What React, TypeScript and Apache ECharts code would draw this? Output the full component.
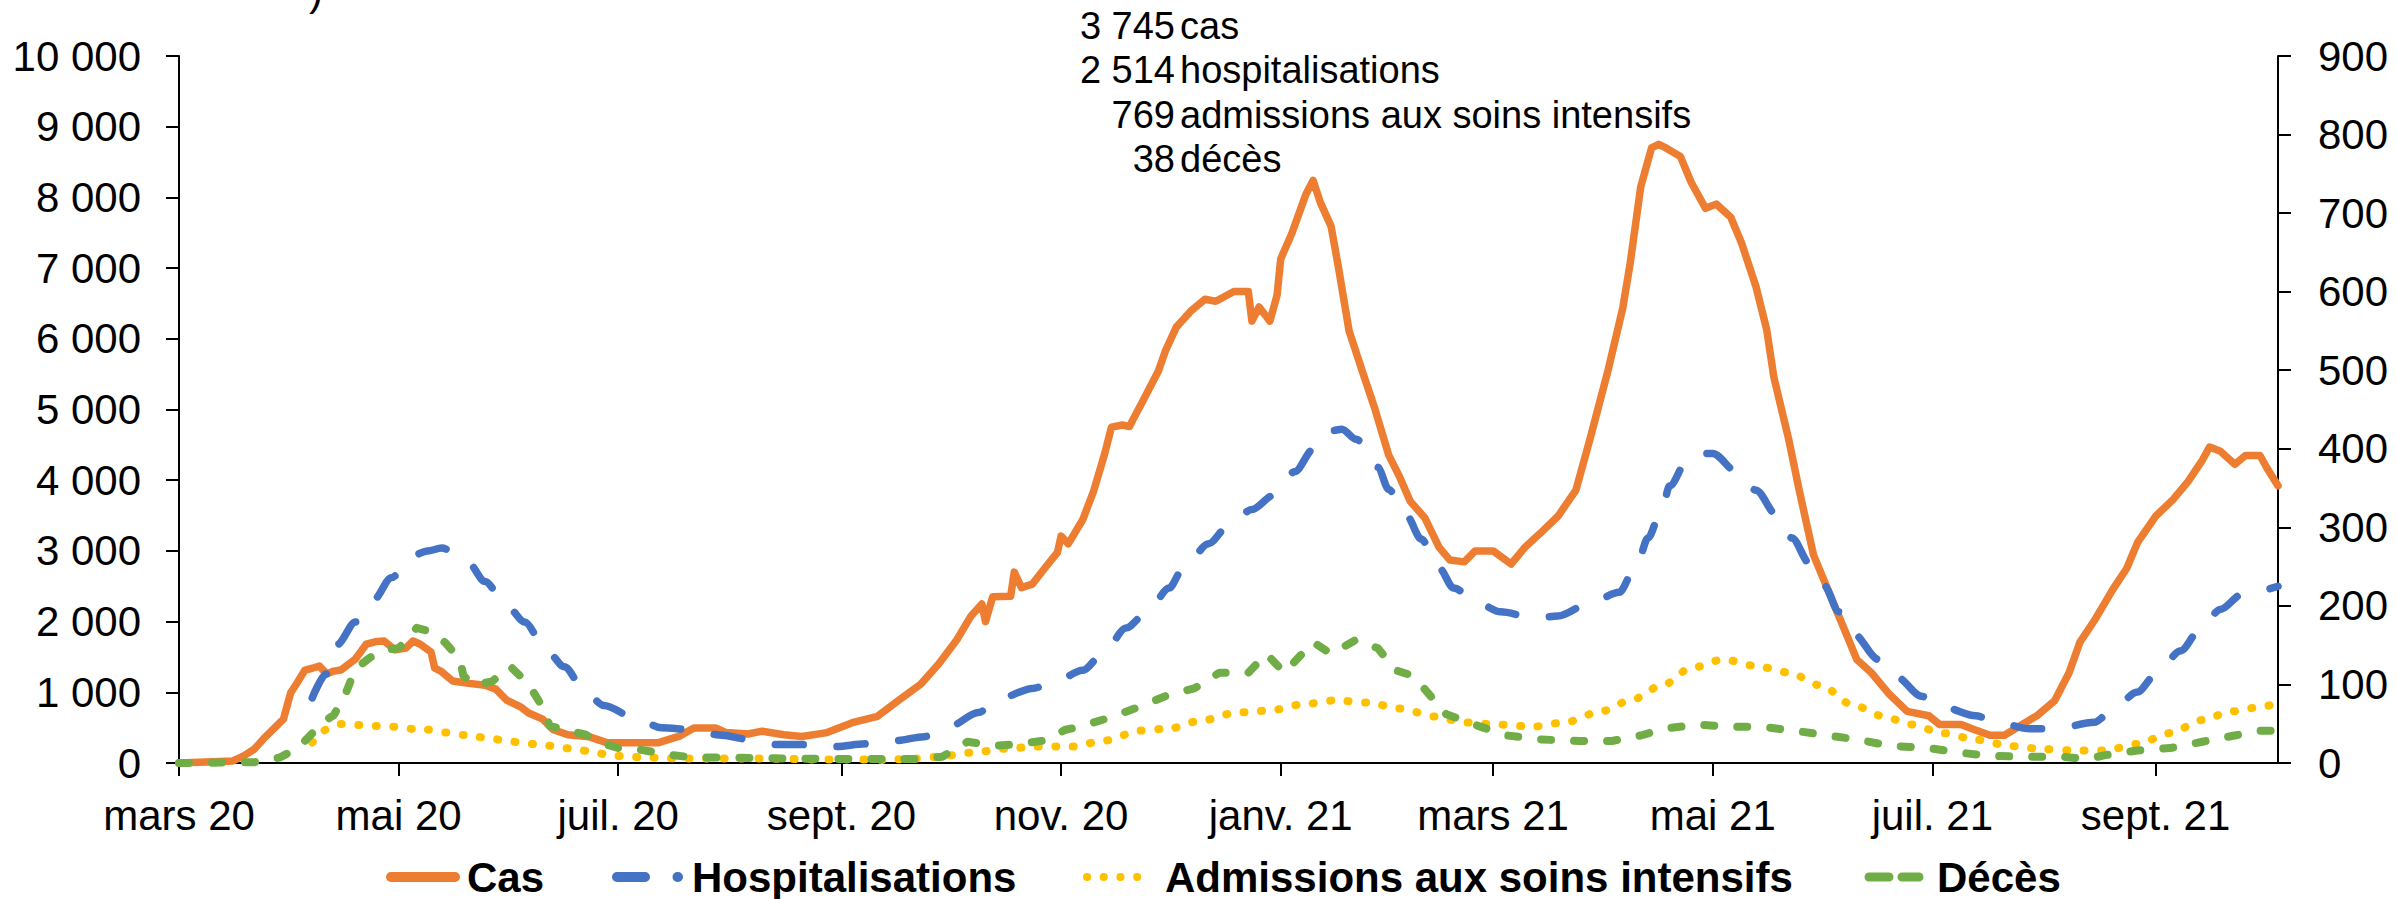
import React, { useEffect, useRef } from "react";
import * as echarts from "echarts";

// ---------- Data ----------
const START_DATE = "2020-03-01";
const END_DATE = "2021-10-05";

const MOIS = ["janv.", "févr.", "mars", "avr.", "mai", "juin", "juil.", "août", "sept.", "oct.", "nov.", "déc."];

const seriesNames = ["Cas", "Hospitalisations", "Admissions aux soins intensifs", "Décès"];

// Cas (axe de gauche)
const casData: [string, number][] = [
  ["2020-03-01", 0], ["2020-03-16", 30], ["2020-03-19", 100], ["2020-03-22", 200], ["2020-03-25", 370],
  ["2020-03-28", 520], ["2020-03-30", 620], ["2020-04-01", 990], ["2020-04-03", 1150], ["2020-04-05", 1315],
  ["2020-04-07", 1340], ["2020-04-09", 1370], ["2020-04-11", 1260], ["2020-04-13", 1300], ["2020-04-15", 1315],
  ["2020-04-19", 1470], ["2020-04-22", 1680], ["2020-04-25", 1720], ["2020-04-27", 1725], ["2020-04-30", 1600],
  ["2020-05-03", 1625], ["2020-05-05", 1725], ["2020-05-07", 1680], ["2020-05-10", 1570], ["2020-05-11", 1345],
  ["2020-05-13", 1290], ["2020-05-16", 1160], ["2020-05-20", 1130], ["2020-05-25", 1100], ["2020-05-28", 1045],
  ["2020-05-31", 890], ["2020-06-04", 790], ["2020-06-06", 710], ["2020-06-10", 620], ["2020-06-13", 470],
  ["2020-06-17", 400], ["2020-06-23", 370], ["2020-06-28", 285], ["2020-07-06", 285], ["2020-07-12", 285],
  ["2020-07-18", 380], ["2020-07-22", 495], ["2020-07-28", 495], ["2020-07-31", 430], ["2020-08-02", 425],
  ["2020-08-06", 410], ["2020-08-10", 450], ["2020-08-16", 400], ["2020-08-21", 375], ["2020-08-28", 430],
  ["2020-09-04", 570], ["2020-09-11", 660], ["2020-09-17", 890], ["2020-09-23", 1115], ["2020-09-28", 1400],
  ["2020-10-03", 1740], ["2020-10-07", 2080], ["2020-10-10", 2250], ["2020-10-11", 2000], ["2020-10-13", 2350],
  ["2020-10-18", 2360], ["2020-10-19", 2700], ["2020-10-21", 2480], ["2020-10-24", 2530], ["2020-10-28", 2790],
  ["2020-10-31", 2980], ["2020-11-01", 3210], ["2020-11-03", 3100], ["2020-11-07", 3440], ["2020-11-10", 3840],
  ["2020-11-13", 4355], ["2020-11-15", 4750], ["2020-11-18", 4780], ["2020-11-20", 4760], ["2020-11-21", 4860],
  ["2020-11-24", 5150], ["2020-11-28", 5540], ["2020-11-30", 5830], ["2020-12-03", 6165], ["2020-12-07", 6390],
  ["2020-12-11", 6560], ["2020-12-14", 6530], ["2020-12-19", 6670], ["2020-12-23", 6670], ["2020-12-24", 6250],
  ["2020-12-26", 6450], ["2020-12-29", 6250], ["2020-12-31", 6620], ["2021-01-01", 7130], ["2021-01-04", 7480],
  ["2021-01-06", 7760], ["2021-01-08", 8045], ["2021-01-10", 8240], ["2021-01-12", 7930], ["2021-01-15", 7590],
  ["2021-01-17", 7020], ["2021-01-20", 6110], ["2021-01-24", 5490], ["2021-01-27", 5035], ["2021-01-31", 4355],
  ["2021-02-03", 4050], ["2021-02-06", 3700], ["2021-02-10", 3470], ["2021-02-14", 3050], ["2021-02-17", 2870],
  ["2021-02-21", 2845], ["2021-02-24", 3000], ["2021-03-01", 3000], ["2021-03-06", 2815], ["2021-03-10", 3060],
  ["2021-03-14", 3245], ["2021-03-19", 3490], ["2021-03-24", 3860], ["2021-03-28", 4600], ["2021-04-02", 5570],
  ["2021-04-06", 6435], ["2021-04-08", 7045], ["2021-04-11", 8150], ["2021-04-14", 8700], ["2021-04-16", 8750],
  ["2021-04-18", 8700], ["2021-04-22", 8580], ["2021-04-25", 8215], ["2021-04-29", 7845], ["2021-05-02", 7905],
  ["2021-05-06", 7720], ["2021-05-09", 7355], ["2021-05-13", 6740], ["2021-05-16", 6125], ["2021-05-18", 5450],
  ["2021-05-22", 4600], ["2021-05-25", 3860], ["2021-05-29", 2940], ["2021-06-03", 2325], ["2021-06-07", 1835],
  ["2021-06-10", 1465], ["2021-06-14", 1280], ["2021-06-19", 975], ["2021-06-24", 730], ["2021-06-30", 668],
  ["2021-07-03", 545], ["2021-07-09", 545], ["2021-07-12", 484], ["2021-07-17", 392], ["2021-07-21", 392],
  ["2021-07-24", 484], ["2021-07-30", 668], ["2021-08-04", 883], ["2021-08-08", 1280], ["2021-08-11", 1710],
  ["2021-08-15", 2015], ["2021-08-20", 2445], ["2021-08-24", 2755], ["2021-08-27", 3120], ["2021-09-01", 3490],
  ["2021-09-06", 3735], ["2021-09-10", 3980], ["2021-09-14", 4285], ["2021-09-16", 4470], ["2021-09-19", 4410],
  ["2021-09-23", 4225], ["2021-09-26", 4350], ["2021-09-30", 4350], ["2021-10-02", 4165], ["2021-10-05", 3920],
];

// Hospitalisations (axe de gauche)
const hospData: [string, number][] = [
  ["2020-04-07", 920], ["2020-04-11", 1260], ["2020-04-14", 1677], ["2020-04-19", 1995], ["2020-04-24", 2305],
  ["2020-04-29", 2620], ["2020-05-05", 2935], ["2020-05-09", 3000], ["2020-05-13", 3040], ["2020-05-20", 2855],
  ["2020-05-25", 2567], ["2020-05-31", 2226], ["2020-06-05", 1994], ["2020-06-11", 1598], ["2020-06-16", 1362],
  ["2020-06-22", 996], ["2020-06-27", 812], ["2020-07-06", 629], ["2020-07-13", 498], ["2020-07-22", 470],
  ["2020-07-29", 396], ["2020-08-07", 330], ["2020-08-14", 262], ["2020-08-23", 260], ["2020-08-30", 232],
  ["2020-09-08", 272], ["2020-09-16", 317], ["2020-09-24", 373], ["2020-10-01", 516], ["2020-10-09", 714],
  ["2020-10-15", 914], ["2020-10-24", 1055], ["2020-10-30", 1141], ["2020-11-07", 1311], ["2020-11-13", 1570],
  ["2020-11-19", 1909], ["2020-11-25", 2136], ["2020-12-01", 2475], ["2020-12-05", 2761], ["2020-12-12", 3102],
  ["2020-12-17", 3328], ["2020-12-24", 3584], ["2020-12-30", 3784], ["2021-01-05", 4124], ["2021-01-10", 4437],
  ["2021-01-15", 4700], ["2021-01-18", 4720], ["2021-01-22", 4578], ["2021-01-28", 4181], ["2021-01-31", 3868],
  ["2021-02-05", 3495], ["2021-02-09", 3170], ["2021-02-14", 2758], ["2021-02-18", 2476], ["2021-02-25", 2256],
  ["2021-03-03", 2138], ["2021-03-13", 2048], ["2021-03-19", 2079], ["2021-03-28", 2263], ["2021-04-05", 2416],
  ["2021-04-10", 2815], ["2021-04-13", 3182], ["2021-04-17", 3612], ["2021-04-19", 3918], ["2021-04-24", 4285],
  ["2021-04-29", 4379], ["2021-05-01", 4379], ["2021-05-08", 4103], ["2021-05-13", 3857], ["2021-05-19", 3490],
  ["2021-05-23", 3182], ["2021-05-28", 2815], ["2021-06-01", 2508], ["2021-06-05", 2140], ["2021-06-09", 1833],
  ["2021-06-16", 1465], ["2021-06-21", 1219], ["2021-06-28", 943], ["2021-07-04", 790], ["2021-07-13", 668],
  ["2021-07-19", 575], ["2021-07-28", 484], ["2021-08-04", 484], ["2021-08-15", 575], ["2021-08-19", 699],
  ["2021-08-27", 1004], ["2021-09-01", 1250], ["2021-09-08", 1588], ["2021-09-13", 1864], ["2021-09-19", 2171],
  ["2021-09-25", 2385], ["2021-10-05", 2500],
];

// Admissions aux soins intensifs (axe de gauche)
const icuData: [string, number][] = [
  ["2020-04-07", 288], ["2020-04-11", 472], ["2020-04-15", 551], ["2020-04-20", 537], ["2020-04-25", 523],
  ["2020-04-30", 513], ["2020-05-05", 482], ["2020-05-09", 472], ["2020-05-14", 430], ["2020-05-19", 396],
  ["2020-05-23", 368], ["2020-05-27", 341], ["2020-06-01", 304], ["2020-06-06", 273], ["2020-06-11", 248],
  ["2020-06-16", 212], ["2020-06-20", 184], ["2020-06-24", 157], ["2020-06-29", 105], ["2020-07-03", 95],
  ["2020-07-08", 79], ["2020-07-18", 64], ["2020-07-31", 64], ["2020-08-12", 62], ["2020-08-25", 50],
  ["2020-09-04", 50], ["2020-09-13", 44], ["2020-09-21", 61], ["2020-09-28", 89], ["2020-10-07", 146],
  ["2020-10-17", 204], ["2020-10-25", 232], ["2020-11-04", 232], ["2020-11-13", 317], ["2020-11-23", 458],
  ["2020-12-01", 488], ["2020-12-10", 601], ["2020-12-20", 714], ["2020-12-29", 742], ["2021-01-07", 829],
  ["2021-01-16", 885], ["2021-01-25", 857], ["2021-02-03", 771], ["2021-02-13", 658], ["2021-02-21", 573],
  ["2021-03-02", 545], ["2021-03-12", 514], ["2021-03-21", 575], ["2021-03-31", 730], ["2021-04-08", 883],
  ["2021-04-17", 1098], ["2021-04-25", 1344], ["2021-05-04", 1465], ["2021-05-13", 1373], ["2021-05-22", 1281],
  ["2021-05-31", 1098], ["2021-06-09", 820], ["2021-06-17", 668], ["2021-06-25", 545], ["2021-07-04", 423],
  ["2021-07-13", 331], ["2021-07-23", 239], ["2021-08-01", 195], ["2021-08-09", 177], ["2021-08-18", 177],
  ["2021-08-27", 269], ["2021-09-05", 423], ["2021-09-14", 607], ["2021-09-22", 730], ["2021-09-30", 790],
  ["2021-10-05", 853],
];

// Décès (axe de droite)
const decesData: [string, number][] = [
  ["2020-03-01", 0], ["2020-03-22", 1], ["2020-03-29", 7], ["2020-04-03", 19], ["2020-04-06", 33],
  ["2020-04-10", 52], ["2020-04-13", 61], ["2020-04-16", 85], ["2020-04-19", 120], ["2020-04-23", 134],
  ["2020-04-27", 144], ["2020-05-01", 146], ["2020-05-04", 160], ["2020-05-06", 172], ["2020-05-10", 167],
  ["2020-05-14", 153], ["2020-05-18", 132], ["2020-05-19", 111], ["2020-05-22", 99], ["2020-05-27", 104],
  ["2020-06-01", 123], ["2020-06-06", 101], ["2020-06-10", 71], ["2020-06-12", 47], ["2020-06-16", 43],
  ["2020-06-22", 36], ["2020-06-26", 26], ["2020-07-01", 19], ["2020-07-07", 17], ["2020-07-16", 10],
  ["2020-07-22", 7], ["2020-07-31", 7], ["2020-08-12", 6], ["2020-09-02", 5], ["2020-09-22", 5],
  ["2020-09-29", 8], ["2020-10-06", 27], ["2020-10-14", 22], ["2020-10-20", 24], ["2020-10-28", 29],
  ["2020-11-02", 42], ["2020-11-06", 46], ["2020-11-14", 57], ["2020-11-23", 72], ["2020-12-01", 87],
  ["2020-12-08", 95], ["2020-12-15", 115], ["2020-12-23", 115], ["2020-12-28", 139], ["2021-01-02", 115],
  ["2021-01-10", 154], ["2021-01-15", 139], ["2021-01-22", 157], ["2021-01-28", 146], ["2021-02-02", 118],
  ["2021-02-06", 112], ["2021-02-10", 94], ["2021-02-16", 62], ["2021-02-21", 54], ["2021-02-25", 47],
  ["2021-03-05", 35], ["2021-03-14", 30], ["2021-03-25", 28], ["2021-04-03", 28], ["2021-04-11", 35],
  ["2021-04-18", 44], ["2021-04-27", 49], ["2021-05-06", 46], ["2021-05-15", 46], ["2021-05-24", 41],
  ["2021-06-02", 35], ["2021-06-10", 30], ["2021-06-19", 22], ["2021-06-30", 19], ["2021-07-09", 13],
  ["2021-07-17", 9], ["2021-07-28", 8], ["2021-08-06", 8], ["2021-08-13", 5], ["2021-08-18", 10],
  ["2021-08-27", 16], ["2021-09-05", 19], ["2021-09-14", 27], ["2021-09-23", 35], ["2021-09-30", 41],
  ["2021-10-05", 41],
];

// Dernières valeurs (annotation en haut)
const lastNumbers = ["3 745", "2 514", "769", "38"];
const lastLabels = ["cas", "hospitalisations", "admissions aux soins intensifs", "décès"];

const COLORS = ["#ED7D31", "#4472C4", "#FFC000", "#70AD47"];
const FONT = "'Liberation Sans', Arial, Helvetica, sans-serif";

function buildDays(start: string, end: string): string[] {
  const out: string[] = [];
  const d = new Date(start + "T00:00:00Z");
  const e = new Date(end + "T00:00:00Z");
  while (d.getTime() <= e.getTime()) {
    out.push(d.toISOString().slice(0, 10));
    d.setUTCDate(d.getUTCDate() + 1);
  }
  return out;
}

const isMonthTick = (v: string) => v.endsWith("-01") && Number(v.slice(5, 7)) % 2 === 1;
const fmtMonth = (v: string) => {
  const [y, m] = v.split("-");
  return MOIS[Number(m) - 1] + " " + y.slice(2);
};
const fmtThousands = (v: number) =>
  v >= 1000 ? `${Math.floor(v / 1000)} ${String(v % 1000).padStart(3, "0")}` : String(v);

export default function App() {
  const ref = useRef<HTMLDivElement>(null);

  useEffect(() => {
    document.body.style.margin = "0";
    document.body.style.overflow = "hidden";
    const chart = echarts.init(ref.current!, null, { renderer: "svg" });
    const days = buildDays(START_DATE, END_DATE);

    const axisLineStyle = { color: "#000", width: 2 };
    const labelStyle = { fontSize: 42, color: "#000", fontFamily: FONT };

    const legendY = 877;
    const legendText = (x: number, text: string) => ({
      type: "text",
      x,
      y: legendY,
      style: {
        text, fontSize: 42, lineHeight: 38, fontWeight: "bold", fontFamily: FONT, fill: "#000",
        align: "left", verticalAlign: "middle",
      },
    });
    const legendLine = (x1: number, x2: number, color: string, width: number, dash?: number[]) => ({
      type: "line",
      shape: { x1, y1: legendY, x2, y2: legendY },
      style: { stroke: color, lineWidth: width, lineCap: "round", lineDash: dash || null },
    });

    const annY = [26, 70, 115, 159];
    const annotations: any[] = [];
    lastNumbers.forEach((n, i) => {
      annotations.push({
        type: "text", x: 1175, y: annY[i],
        style: { text: n, fontSize: 38, fontFamily: FONT, fill: "#000", align: "right", verticalAlign: "middle" },
      });
      annotations.push({
        type: "text", x: 1180, y: annY[i],
        style: { text: lastLabels[i], fontSize: 38, fontFamily: FONT, fill: "#000", align: "left", verticalAlign: "middle" },
      });
    });

    const option: any = {
      animation: false,
      backgroundColor: "#ffffff",
      grid: { left: 179, right: 119, top: 56, bottom: 136, containLabel: false, outerBoundsMode: "none" },
      xAxis: {
        type: "category",
        data: days,
        boundaryGap: false,
        axisLine: { lineStyle: axisLineStyle },
        axisTick: { show: true, length: 13, lineStyle: axisLineStyle, interval: (_i: number, v: string) => isMonthTick(v) },
        axisLabel: {
          ...labelStyle,
          margin: 31,
          interval: (_i: number, v: string) => isMonthTick(v),
          formatter: fmtMonth,
        },
        splitLine: { show: false },
      },
      yAxis: [
        {
          type: "value", min: 0, max: 10000, interval: 1000, position: "left",
          axisLine: { show: true, lineStyle: axisLineStyle },
          axisTick: { show: true, length: 13, lineStyle: axisLineStyle },
          axisLabel: { ...labelStyle, margin: 38, formatter: fmtThousands },
          splitLine: { show: false },
        },
        {
          type: "value", min: 0, max: 900, interval: 100, position: "right",
          axisLine: { show: true, lineStyle: axisLineStyle },
          axisTick: { show: true, length: 13, lineStyle: axisLineStyle },
          axisLabel: { ...labelStyle, margin: 40 },
          splitLine: { show: false },
        },
      ],
      series: [
        {
          name: seriesNames[0], type: "line", yAxisIndex: 0, data: casData, symbol: "none",
          lineStyle: { color: COLORS[0], width: 7.5, join: "round", cap: "round" },
        },
        {
          name: seriesNames[1], type: "line", yAxisIndex: 0, data: hospData, symbol: "none",
          smooth: 0.3, smoothMonotone: "x",
          lineStyle: { color: COLORS[1], width: 7.5, type: [28, 34], cap: "round", join: "round" },
        },
        {
          name: seriesNames[2], type: "line", yAxisIndex: 0, data: icuData, symbol: "none",
          smooth: 0.3, smoothMonotone: "x",
          lineStyle: { color: COLORS[2], width: 8, type: [1, 16.5], cap: "round", join: "round" },
        },
        {
          name: seriesNames[3], type: "line", yAxisIndex: 1, data: decesData, symbol: "none",
          lineStyle: { color: COLORS[3], width: 8, type: [10, 23], cap: "round", join: "round" },
        },
      ],
      graphic: [
        legendLine(391, 455, COLORS[0], 10),
        legendText(467, seriesNames[0]),
        legendLine(617, 678, COLORS[1], 10, [28, 32.5]),
        legendText(692, seriesNames[1]),
        legendLine(1087, 1137.2, COLORS[2], 8, [0.1, 16.6]),
        legendText(1165, seriesNames[2]),
        legendLine(1869, 1919, COLORS[3], 9, [20, 13]),
        legendText(1937, seriesNames[3]),
        ...annotations,
        {
          type: "text", x: 316, y: -10,
          style: { text: ")", fontSize: 42, fontFamily: FONT, fill: "#000", align: "center", verticalAlign: "middle" },
        },
      ],
    };

    chart.setOption(option);
    return () => chart.dispose();
  }, []);

  return <div ref={ref} style={{ width: 2397, height: 899 }} />;
}
